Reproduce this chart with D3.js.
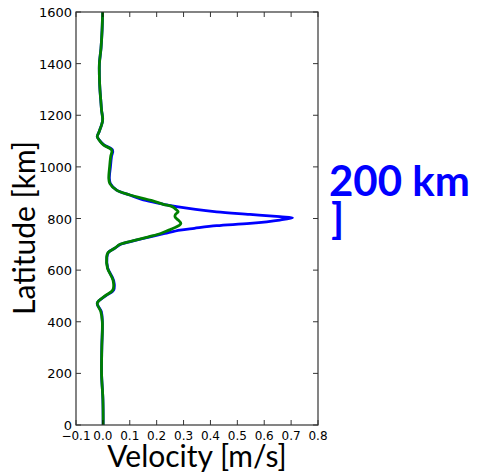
<!DOCTYPE html>
<html><head><meta charset="utf-8">
<script src="https://cdn.jsdelivr.net/npm/d3@7"></script>
<style>body{margin:0;background:#fff}svg{display:block}</style>
</head><body>
<script>
const latitudes = [0,100,200,300,400,440,472,500,523,560,608,650,668,685,700,715,729,742,755,762,772,781,794,803,807,816,826,835,846,855,870,891,910,935,955,1000,1040,1065,1085,1100,1117,1136,1180,1220,1260,1300,1350,1400,1460,1530,1600];
const blueVel  = [0.001,0.000,-0.005,-0.004,-0.002,-0.006,-0.021,0.010,0.040,0.040,0.018,0.015,0.020,0.045,0.066,0.120,0.175,0.230,0.287,0.340,0.423,0.547,0.658,0.705,0.658,0.547,0.423,0.345,0.274,0.225,0.160,0.100,0.051,0.028,0.024,0.028,0.032,0.036,0.004,-0.010,-0.021,-0.014,-0.001,-0.005,-0.008,-0.011,-0.013,-0.013,-0.007,-0.003,-0.001];
const greenVel = [0.001,0.000,-0.005,-0.004,-0.002,-0.008,-0.021,0.008,0.037,0.038,0.017,0.014,0.019,0.044,0.064,0.118,0.170,0.215,0.245,0.262,0.282,0.290,0.280,0.270,0.268,0.270,0.280,0.272,0.258,0.225,0.180,0.100,0.051,0.026,0.022,0.025,0.029,0.033,0.002,-0.011,-0.021,-0.014,-0.001,-0.005,-0.008,-0.011,-0.013,-0.013,-0.007,-0.003,-0.001];
const xTicks = [-0.1,0.0,0.1,0.2,0.3,0.4,0.5,0.6,0.7,0.8];
const xTickLabels = ["\u22120.1","0.0","0.1","0.2","0.3","0.4","0.5","0.6","0.7","0.8"];
const yTicks = [0,200,400,600,800,1000,1200,1400,1600];

const W=477,H=475;
const m={left:76,right:318,top:12,bottom:425};
const svg=d3.select("body").append("svg").attr("width",W).attr("height",H);
const x=d3.scaleLinear().domain([-0.1,0.8]).range([m.left,m.right]);
const y=d3.scaleLinear().domain([0,1600]).range([m.bottom,m.top]);

const tickFont="DejaVu Sans";
const frame=svg.append("g");
xTicks.forEach(t=>{
  frame.append("line").attr("x1",x(t)).attr("x2",x(t)).attr("y1",m.bottom).attr("y2",m.bottom-5).attr("stroke","#000").attr("stroke-width",0.8);
  frame.append("line").attr("x1",x(t)).attr("x2",x(t)).attr("y1",m.top).attr("y2",m.top+5).attr("stroke","#000").attr("stroke-width",0.8);
});
yTicks.forEach(t=>{
  frame.append("line").attr("x1",m.left).attr("x2",m.left+5).attr("y1",y(t)).attr("y2",y(t)).attr("stroke","#000").attr("stroke-width",0.8);
  frame.append("line").attr("x1",m.right).attr("x2",m.right-5).attr("y1",y(t)).attr("y2",y(t)).attr("stroke","#000").attr("stroke-width",0.8);
});
xTicks.forEach((t,i)=>{
  svg.append("text").attr("x",x(t)).attr("y",m.bottom+15).attr("text-anchor","middle")
    .attr("font-family",tickFont).attr("font-size",12).attr("fill","#000").text(xTickLabels[i]);
});
yTicks.forEach(t=>{
  svg.append("text").attr("x",m.left-4).attr("y",y(t)+5).attr("text-anchor","end")
    .attr("font-family",tickFont).attr("font-size",13).attr("fill","#000").text(t);
});

const line=(vals)=>d3.line().x((d,i)=>x(vals[i])).y(d=>y(d)).curve(d3.curveCatmullRom.alpha(0.5));
const plot=svg.append("g");
plot.append("path").datum(latitudes).attr("d",line(blueVel)).attr("fill","none").attr("stroke","#0000ff").attr("stroke-width",2.8);
plot.append("path").datum(latitudes).attr("d",line(greenVel)).attr("fill","none").attr("stroke","#008000").attr("stroke-width",2.8);

frame.append("rect").attr("x",m.left).attr("y",m.top).attr("width",m.right-m.left).attr("height",m.bottom-m.top)
  .attr("fill","none").attr("stroke","#333").attr("stroke-width",1.2);
frame.raise();

svg.append("text").attr("x",197).attr("y",467).attr("text-anchor","middle")
  .attr("font-family","Lato").attr("font-size",30).attr("fill","#000").text("Velocity [m/s]");
svg.append("text").attr("transform","translate(35,228) rotate(-90)").attr("text-anchor","middle")
  .attr("font-family","Lato").attr("font-size",30).attr("fill","#000").text("Latitude [km]");

svg.append("text").attr("x",329).attr("y",196).attr("font-family","Lato").attr("font-weight","bold")
  .attr("font-size",42).attr("fill","#0000ff").text("200 km");
svg.append("text").attr("x",331).attr("y",234).attr("font-family","Lato").attr("font-weight","bold")
  .attr("font-size",42).attr("fill","#0000ff").text("]");
</script>
</body></html>
